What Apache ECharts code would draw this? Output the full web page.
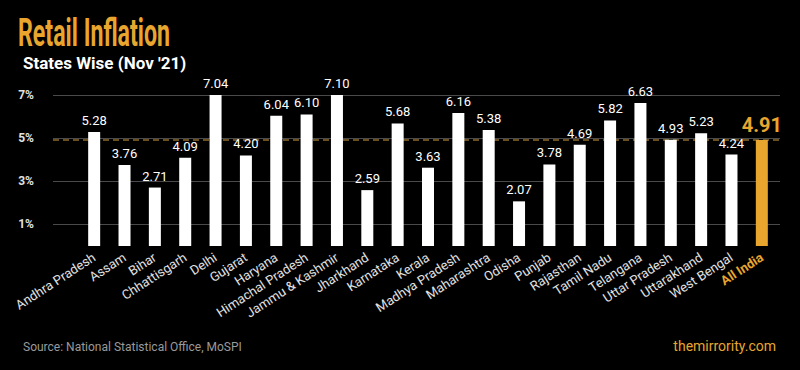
<!DOCTYPE html>
<html>
<head>
<meta charset="utf-8">
<script src="https://cdn.jsdelivr.net/npm/echarts@6/dist/echarts.min.js"></script>
<style>
html,body{margin:0;padding:0;background:#000;}
#chart{width:800px;height:370px;}
</style>
</head>
<body>
<div id="chart"></div>
<script>
const categories = ["Andhra Pradesh","Assam","Bihar","Chhattisgarh","Delhi","Gujarat","Haryana","Himachal Pradesh","Jammu & Kashmir","Jharkhand","Karnataka","Kerala","Madhya Pradesh","Maharashtra","Odisha","Punjab","Rajasthan","Tamil Nadu","Telangana","Uttar Pradesh","Uttarakhand","West Bengal","All India"];
const inflation = [5.28,3.76,2.71,4.09,7.04,4.20,6.04,6.10,7.10,2.59,5.68,3.63,6.16,5.38,2.07,3.78,4.69,5.82,6.63,4.93,5.23,4.24,4.91];
const allIndiaValue = 4.91;
const yTicks = {min: -1, max: 7, interval: 2};
const titleText = "Retail Inflation";
const subtitleText = "States Wise (Nov '21)";
const sourceText = "Source: National Statistical Office, MoSPI";
const siteText = "themirrority.com";

const ORANGE = '#E9A62F';
const highlight = 'All India';

const barData = inflation.map((v, i) => {
  if (categories[i] === highlight) {
    return {
      value: v,
      itemStyle: {color: ORANGE},
      label: {color: ORANGE, fontSize: 20, fontWeight: 'bold'}
    };
  }
  return v;
});

const chart = echarts.init(document.getElementById('chart'), null, {renderer: 'svg'});
const gridTop = 95;
chart.setOption({
  backgroundColor: '#000',
  animation: false,
  textStyle: {fontFamily: 'Roboto'},
  title: [
    {text: subtitleText, left: 18, top: 49, textStyle: {color: '#fff', fontSize: 17, fontWeight: 'bold', fontFamily: 'Roboto'}},
    {text: sourceText, left: 18, top: 336, textStyle: {color: '#9a9a9a', fontSize: 12, fontWeight: 'normal', fontFamily: 'Roboto'}},
    {text: siteText, right: 19, top: 334, textStyle: {color: ORANGE, fontSize: 14, fontWeight: 'normal', fontFamily: 'Roboto'}}
  ],
  graphic: [
    {type: 'text', x: 18, y: 14, scaleX: 0.61, style: {text: titleText, x: 0, y: 0, verticalAlign: 'top', fill: ORANGE, font: 'bold 38px Roboto'}}
  ],
  grid: [
    {left: 79, right: 23, top: gridTop, bottom: 124},
    {left: 53, right: 20, top: gridTop, bottom: 102.4}
  ],
  xAxis: [
    {
      type: 'category', gridIndex: 0, data: categories,
      axisLine: {show: false},
      axisTick: {show: false},
      axisLabel: {
        rotate: 33, margin: 10, color: '#e2e2e2', fontSize: 13, interval: 0,
        formatter: (v) => v === highlight ? '{hl|' + v + '}' : v,
        rich: {hl: {color: ORANGE, fontWeight: 'bold', fontSize: 13}}
      }
    },
    {type: 'value', gridIndex: 1, min: 0, max: 1, show: false}
  ],
  yAxis: [
    {type: 'value', gridIndex: 0, min: 0, max: 7, show: false},
    {
      type: 'value', gridIndex: 1, min: yTicks.min, max: yTicks.max, interval: yTicks.interval,
      axisLine: {show: false}, axisTick: {show: false},
      axisLabel: {
        margin: 19, color: '#e0e0e0', fontSize: 12, fontWeight: 'bold', showMinLabel: false,
        formatter: (v) => v < 0 ? '' : v + '%'
      },
      splitLine: {show: true, showMinLine: false, lineStyle: {color: '#4a4a4a', width: 1}}
    }
  ],
  series: [
    {
      type: 'line', xAxisIndex: 1, yAxisIndex: 1, data: [], z: 1,
      markLine: {
        silent: true, symbol: 'none', z: 1,
        label: {show: false},
        lineStyle: {color: '#8E6B2A', type: [6, 4], width: 1.6},
        data: [{yAxis: allIndiaValue}]
      }
    },
    {
      type: 'bar', xAxisIndex: 0, yAxisIndex: 0, data: barData, barWidth: 12, z: 3,
      itemStyle: {color: '#fff'},
      label: {
        show: true, position: 'top', distance: 5, color: '#fff', fontSize: 13,
        formatter: (p) => Number(p.value).toFixed(2)
      }
    }
  ]
});
</script>
</body>
</html>
